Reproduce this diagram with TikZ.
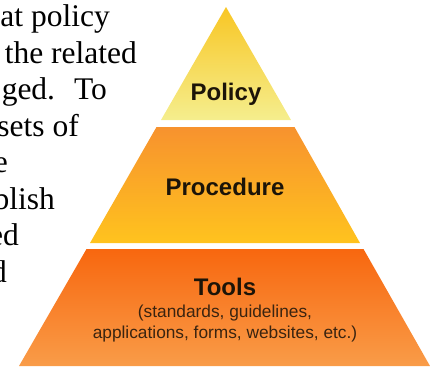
\documentclass[tikz,border=0pt]{standalone}
\usepackage{fontspec}
\setmainfont{Liberation Serif}
\newfontfamily\arialfont{Liberation Sans}
\definecolor{polTop}{HTML}{F8C624}
\definecolor{polBot}{HTML}{F5EE8E}
\definecolor{proTop}{HTML}{F7922E}
\definecolor{proBot}{HTML}{FFC31E}
\definecolor{tooTop}{HTML}{F8670F}
\definecolor{tooBot}{HTML}{F99C48}
\definecolor{inkDark}{HTML}{1C1408}
\definecolor{inkBrown}{HTML}{3A2410}
\tikzset{
  bodytext/.style={inner sep=0pt, anchor=base east, font=\fontsize{31.5}{37}\selectfont},
  layertitle/.style={inner sep=0pt, anchor=base, text=inkDark, font=\arialfont\bfseries\fontsize{24}{28}\selectfont},
  layernote/.style={inner sep=0pt, anchor=base, text=inkBrown, font=\arialfont\fontsize{17.3}{20}\selectfont},
}
\begin{document}
\begin{tikzpicture}[x=1pt,y=-1pt]
\useasboundingbox (0,0) rectangle (434,368);
\clip (0,0) rectangle (434,368);

% paragraph fragment on the left
\node[bodytext] (l1) at (110,26)  {at policy};
\node[bodytext] (l2) at (137,63)  {the related};
\node[bodytext] (l3) at (107,99)  {ged.\hspace{0.6em}To};
\node[bodytext] (l4) at (79,136)  {sets of};
\node[bodytext] (l5) at (8,172)   {e};
\node[bodytext] (l6) at (55,209)  {blish};
\node[bodytext] (l7) at (19,245)  {ed};
\node[bodytext] (l8) at (7,282)   {d};

% pyramid layers
\shade[top color=polTop, bottom color=polBot]
  (226,7) -- (291,120) -- (161,120) -- cycle;
\shade[top color=proTop, bottom color=proBot]
  (156.5,127) -- (294.5,127) -- (360,243) -- (90,243) -- cycle;
\shade[top color=tooTop, bottom color=tooBot]
  (86.5,249) -- (363.5,249) -- (430,366) -- (19,366) -- cycle;

% layer labels
\node[layertitle] (policy) at (226,100) {Policy};
\node[layertitle] (procedure) at (225,195) {Procedure};
\node[layertitle] (tools) at (225,295) {Tools};
\node[layernote] (note1) at (225,317) {(standards, guidelines,};
\node[layernote] (note2) at (225,338) {applications, forms, websites, etc.)};
\end{tikzpicture}
\end{document}
